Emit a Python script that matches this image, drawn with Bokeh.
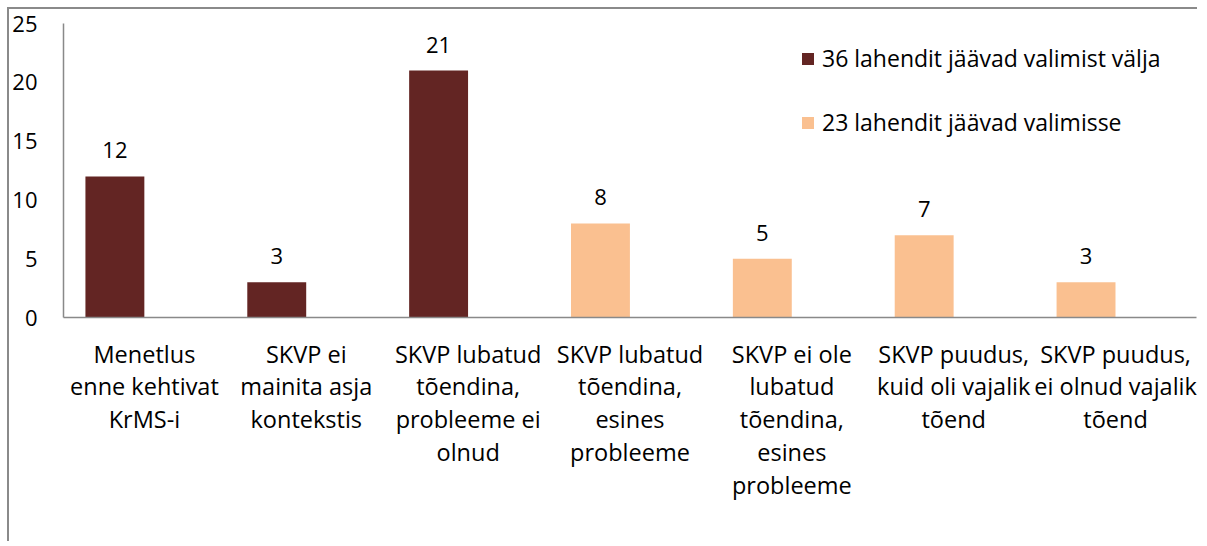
from bokeh.plotting import figure
from bokeh.models import ColumnDataSource, FixedTicker, LabelSet, Legend, LegendItem, Range1d
from bokeh.core.properties import value
from bokeh.embed import file_html
from bokeh.resources import INLINE

categories = [
    "Menetlus\nenne kehtivat\nKrMS-i",
    "SKVP ei\nmainita asja\nkontekstis",
    "SKVP lubatud\ntõendina,\nprobleeme ei\nolnud",
    "SKVP lubatud\ntõendina,\nesines\nprobleeme",
    "SKVP ei ole\nlubatud\ntõendina,\nesines\nprobleeme",
    "SKVP puudus,\nkuid oli vajalik\ntõend",
    "SKVP puudus,\nei olnud vajalik\ntõend",
]
values = [12, 3, 21, 8, 5, 7, 3]
series_index = [0, 0, 0, 1, 1, 1, 1]
series_names = ["36 lahendit jäävad valimist välja", "23 lahendit jäävad valimisse"]
series_colors = ["#632523", "#FAC090"]
y_ticks = [0, 5, 10, 15, 20, 25]

FONT = "Open Sans"
BAR_W = 0.364
BAR_SHIFT = -0.1825

p = figure(width=1190, height=534, output_backend="svg", toolbar_location=None,
           x_range=Range1d(-0.5, len(categories) - 0.5), y_range=Range1d(0, 25),
           min_border_left=50, min_border_top=14, min_border_right=3, min_border_bottom=226)
p.styles = {"margin-left": "7px", "margin-top": "7px",
            "border-left": "2px solid #8a8a8a", "border-top": "2px solid #8a8a8a"}
p.outline_line_color = None
p.grid.visible = False
p.background_fill_color = "white"
p.border_fill_color = "white"

renderers = []
for s in range(len(series_names)):
    xs = [i + BAR_SHIFT for i in range(len(categories)) if series_index[i] == s]
    ys = [values[i] for i in range(len(categories)) if series_index[i] == s]
    src = ColumnDataSource(dict(x=xs, top=ys, lab=[str(v) for v in ys]))
    r = p.vbar(x="x", top="top", width=BAR_W, bottom=0, source=src,
               fill_color=series_colors[s], line_color=None)
    renderers.append(r)
    labels = LabelSet(x="x", y="top", text="lab", source=src, y_offset=26,
                      text_align="center", text_baseline="middle",
                      text_font=value(FONT), text_font_size=value("22px"), text_color="black")
    p.add_layout(labels)

# axes
p.yaxis.ticker = FixedTicker(ticks=y_ticks)
p.yaxis.axis_line_color = "#898989"
p.yaxis.axis_line_width = 1.5
p.yaxis.major_tick_line_color = None
p.yaxis.minor_tick_line_color = None
p.yaxis.major_label_standoff = 20
p.yaxis.major_label_text_font = FONT
p.yaxis.major_label_text_font_size = "22px"
p.yaxis.major_label_text_color = "black"

p.xaxis.ticker = FixedTicker(ticks=list(range(len(categories))))
p.xaxis.major_label_overrides = {i: c for i, c in enumerate(categories)}
p.xaxis.axis_line_color = "#898989"
p.xaxis.axis_line_width = 1.5
p.xaxis.major_tick_line_color = None
p.xaxis.minor_tick_line_color = None
p.xaxis.major_label_standoff = 14
p.xaxis.major_label_text_font = FONT
p.xaxis.major_label_text_font_size = "23.5px"
p.xaxis.major_label_text_line_height = 1.03
p.xaxis.major_label_text_color = "black"

legend = Legend(items=[LegendItem(label=series_names[i], renderers=[renderers[i]]) for i in range(2)],
                location=(737, 179), glyph_width=15, glyph_height=15, label_standoff=7,
                spacing=32, padding=0, margin=0, border_line_color=None,
                background_fill_alpha=0, label_text_font=FONT, label_text_font_size="23px",
                label_text_color="black")
p.add_layout(legend)

open("out.html", "w").write(file_html(p, INLINE))
